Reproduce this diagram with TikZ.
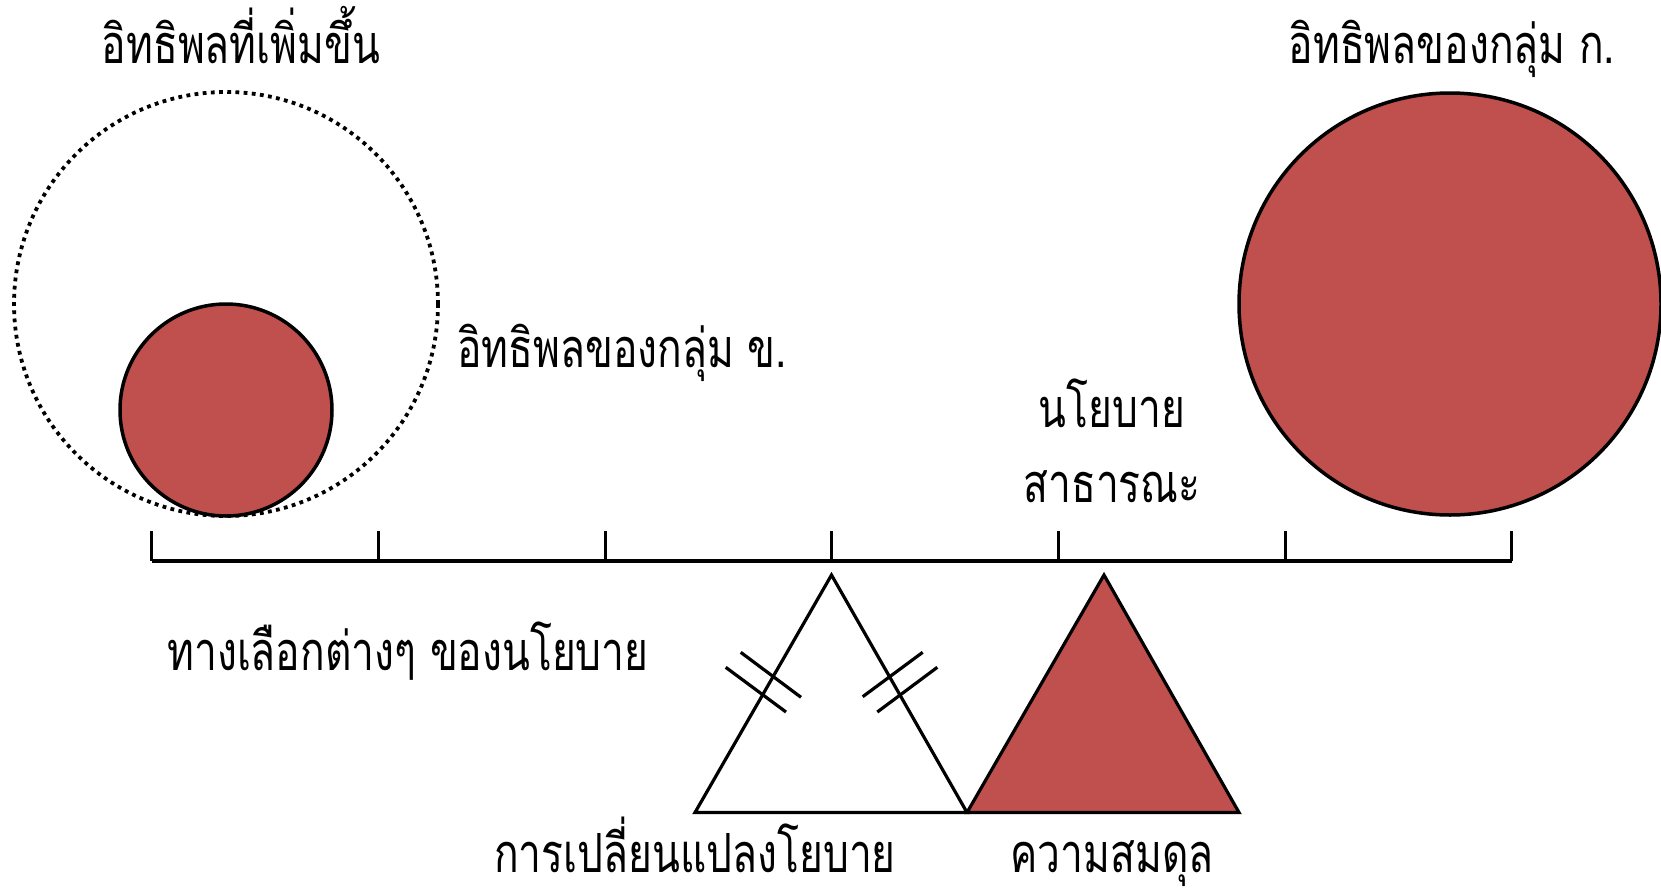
\documentclass[tikz,border=0pt]{standalone}
\usepackage{fontspec}
\newfontfamily\thai[Script=Thai,FakeStretch=0.755]{Loma}
\definecolor{accred}{HTML}{C0504D}
\usetikzlibrary{shapes.geometric}
\begin{document}
\begin{tikzpicture}[x=1pt,y=-1pt,
  lbl/.style={font=\thai\fontsize{54}{60}\selectfont, inner sep=0pt, anchor=base},
  disc/.style={draw=black, line width=3.5pt, fill=accred, inner sep=0pt},
  ring/.style={draw=black, line width=3.8pt, dash pattern=on 3.8pt off 4.4pt, inner sep=0pt},
  beam/.style={line width=4.5pt},
  tick/.style={line width=3pt},
  tri/.style={draw=black, line width=3.2pt, line join=miter},
  hash/.style={line width=3.2pt}]
\useasboundingbox (0,0) rectangle (1661,894);

% circles
\node[ring, circle, minimum size=424pt] (big) at (226,304) {};
\node[disc, circle, minimum size=212pt] (small) at (226,410) {};
\node[disc, circle, minimum size=422pt] (ga) at (1450,304) {};

% beam and ticks
\coordinate (b0) at (151.5,561);
\coordinate (b6) at (1511.6,561);
\draw[beam] (b0) -- (b6);
\foreach \x in {151.5,378.2,605,831.7,1058.4,1285.1,1511.6}
  \draw[tick] (\x,531) -- (\x,561);

% triangles
\coordinate (wa) at (831.5,575);
\coordinate (wl) at (695,812.5);
\coordinate (m) at (967,812.5);
\coordinate (ra) at (1104,575);
\coordinate (rr) at (1239,812.5);
\draw[tri, fill=white] (wl) -- (wa) -- (m) -- cycle;
\draw[tri, fill=accred] (m) -- (ra) -- (rr) -- cycle;

% hash marks
\draw[hash] (740.7,652.3) -- (801,697.3);
\draw[hash] (725.7,667.3) -- (786,712);
\draw[hash] (922.7,652.3) -- (862.7,696.7);
\draw[hash] (937.3,667.3) -- (877.3,712);

% labels
\node[lbl] (t1) at (241,63) {อิทธิพลที่เพิ่มขึ้น};
\node[lbl] (t2) at (1452,63) {อิทธิพลของกลุ่ม ก.};
\node[lbl, anchor=base west] (t3) at (457,367) {อิทธิพลของกลุ่ม ข.};
\node[lbl] (t4) at (1112,427) {นโยบาย};
\node[lbl] (t5) at (1112,502) {สาธารณะ};
\node[lbl] (t6) at (408,670) {ทางเลือกต่างๆ ของนโยบาย};
\node[lbl] (t7) at (695,872) {การเปลี่ยนแปลงโยบาย};
\node[lbl] (t8) at (1112,872) {ความสมดุล};
\end{tikzpicture}
\end{document}
